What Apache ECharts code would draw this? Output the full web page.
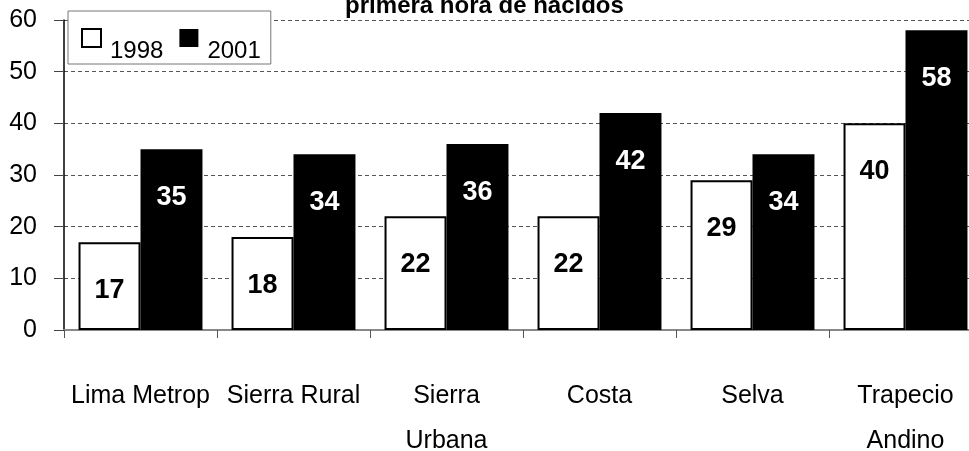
<!DOCTYPE html>
<html>
<head>
<meta charset="utf-8">
<script src="https://cdn.jsdelivr.net/npm/echarts@6/dist/echarts.min.js"></script>
<style>
    html, body { margin: 0; padding: 0; background: #fff; }
    #chart { width: 969px; height: 451px; }
</style>
</head>
<body>
<div id="chart"></div>
<script>
    // datos
    var categories = ['Lima Metrop', 'Sierra Rural', 'Sierra\nUrbana', 'Costa', 'Selva', 'Trapecio\nAndino'];
    var values1998 = [17, 18, 22, 22, 29, 40];
    var values2001 = [35, 34, 36, 42, 34, 58];
    var yTicks = [0, 10, 20, 30, 40, 50, 60];

    var narrow = '"Liberation Sans Narrow", "Arial Narrow", "Liberation Sans", Arial, sans-serif';
    var sans = '"Liberation Sans", Arial, sans-serif';

    var myChart = echarts.init(document.getElementById('chart'), null, {renderer: 'canvas'});

    var labelBase = {
        show: true,
        position: 'insideTop',
        distance: 35,
        fontFamily: sans,
        fontSize: 27,
        fontWeight: 'bold'
    };

    var option = {
        animation: false,
        backgroundColor: '#fff',
        title: {
            text: 'primera hora de nacidos',
            left: 'center',
            top: -11,
            textStyle: {
                fontFamily: sans,
                fontSize: 24,
                fontWeight: 'bold',
                color: '#000',
                lineHeight: 24
            }
        },
        legend: {
            left: 68,
            top: 11,
            orient: 'horizontal',
            backgroundColor: '#fff',
            borderColor: '#777',
            borderWidth: 1,
            borderRadius: 0,
            padding: [2, 10, 1, 13],
            itemWidth: 19,
            itemHeight: 18,
            itemGap: 16,
            data: [
                {name: '1998', icon: 'rect', itemStyle: {color: '#fff', borderColor: '#000', borderWidth: 2}},
                {name: '2001', icon: 'rect', itemStyle: {color: '#000', borderWidth: 0}}
            ],
            formatter: '{t|{name}}',
            textStyle: {
                rich: {
                    t: {
                        fontFamily: narrow,
                        fontSize: 24,
                        lineHeight: 26,
                        color: '#000',
                        padding: [26, 0, 0, 4]
                    }
                }
            }
        },
        grid: {
            left: 64,
            top: 20,
            width: 918,
            height: 310,
            outerBoundsMode: 'none',
            containLabel: false
        },
        xAxis: {
            type: 'category',
            data: categories,
            axisLine: {show: true, lineStyle: {color: '#888', width: 2}},
            axisTick: {show: true, length: 8, lineStyle: {color: '#555'}},
            axisLabel: {
                interval: 0,
                margin: 44,
                fontFamily: narrow,
                fontSize: 25,
                lineHeight: 45,
                color: '#000'
            },
            splitLine: {show: false}
        },
        yAxis: {
            type: 'value',
            min: yTicks[0],
            max: yTicks[yTicks.length - 1],
            interval: 10,
            axisLine: {show: true, lineStyle: {color: '#000', width: 1.5}},
            axisTick: {show: true, inside: false, length: 10, lineStyle: {color: '#444'}},
            axisLabel: {
                margin: 27,
                fontFamily: narrow,
                fontSize: 25,
                color: '#000'
            },
            splitLine: {show: true, lineStyle: {color: '#555', type: [4, 3], width: 1}}
        },
        series: [
            {
                name: '1998',
                type: 'bar',
                barGap: 0,
                barCategoryGap: '19%',
                itemStyle: {color: '#fff', borderColor: '#000', borderWidth: 2},
                label: Object.assign({color: '#000'}, labelBase),
                data: values1998
            },
            {
                name: '2001',
                type: 'bar',
                itemStyle: {color: '#000'},
                label: Object.assign({color: '#fff'}, labelBase),
                data: values2001
            }
        ]
    };

    myChart.setOption(option);
</script>
</body>
</html>
